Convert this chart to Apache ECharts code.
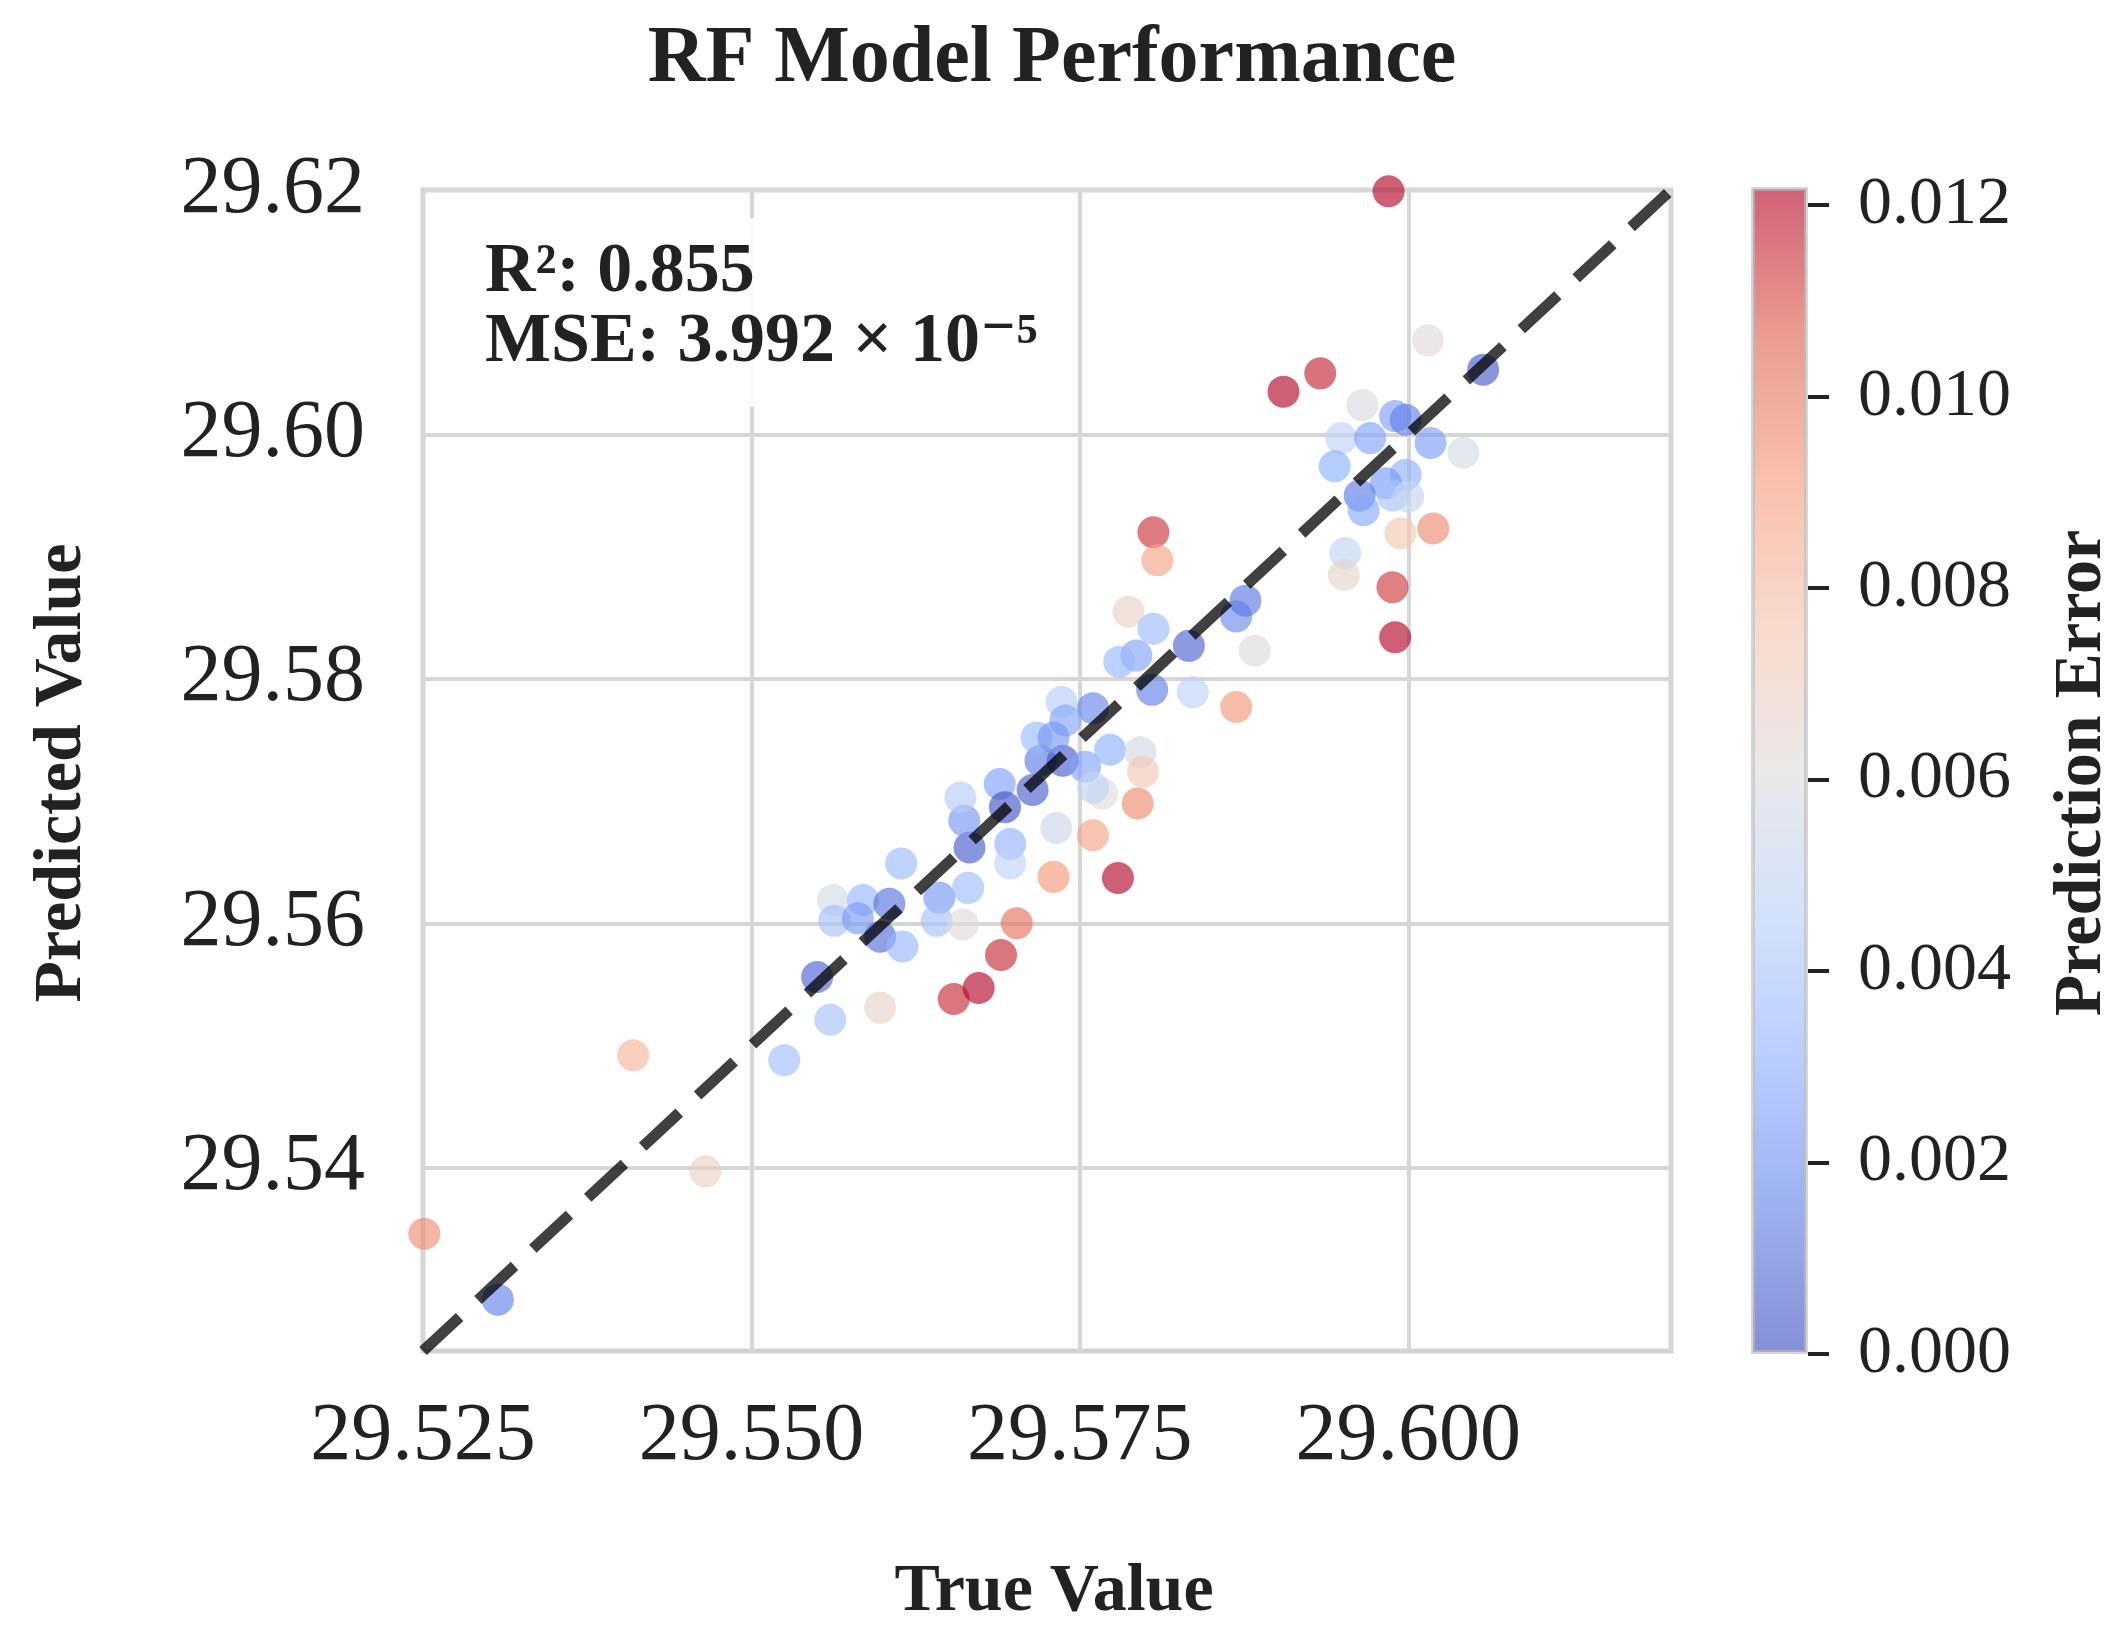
<!DOCTYPE html>
<html>
<head>
<meta charset="utf-8">
<title>RF Model Performance</title>
<script src="https://cdn.jsdelivr.net/npm/echarts@6/dist/echarts.min.js"></script>
<style>
  html, body { margin: 0; padding: 0; background: #fff; }
  #chart { width: 2121px; height: 1642px; }
</style>
</head>
<body>
<div id="chart"></div>
<script>
  // values
  var trueValues = [
    29.5251, 29.5307, 29.5410, 29.5465, 29.5525, 29.5550, 29.5560, 29.5598, 29.5562, 29.5563,
    29.5585, 29.5581, 29.5605, 29.5598, 29.5615, 29.5614, 29.5643, 29.5641, 29.5661, 29.5665,
    29.5654, 29.5673, 29.5690, 29.5702, 29.5697, 29.5697, 29.5666, 29.5662, 29.5659, 29.5689,
    29.5693, 29.5714, 29.5720, 29.5737, 29.5754, 29.5773, 29.5796, 29.5798, 29.5767, 29.5760,
    29.5794, 29.5760, 29.5730, 29.5779, 29.5732, 29.5806, 29.5809, 29.5787, 29.5806, 29.5793,
    29.5780, 29.5833, 29.5883, 29.5869, 29.5876, 29.5805, 29.5836, 29.5869, 29.5736, 29.5760,
    29.5739, 29.5717, 29.5730, 29.5905, 29.5933, 29.5965, 29.6015, 29.6057, 29.5949, 29.5971,
    29.5990, 29.5998, 29.6017, 29.6042, 29.5944, 29.5998, 29.5983, 29.5988, 29.6000, 29.5963,
    29.5966, 29.5994, 29.6019, 29.5952, 29.5951, 29.5988, 29.5990, 29.5985
  ];
  var predictedValues = [
    29.5346, 29.5292, 29.5492, 29.5397, 29.5488, 29.5556, 29.5521, 29.5531, 29.5619, 29.5602,
    29.5619, 29.5604, 29.5616, 29.5589, 29.5581, 29.5649, 29.5621, 29.5602, 29.5599, 29.5629,
    29.5538, 29.5547, 29.5574, 29.5600, 29.5665, 29.5649, 29.5662, 29.5684, 29.5703, 29.5714,
    29.5695, 29.5709, 29.5733, 29.5733, 29.5728, 29.5742, 29.5740, 29.5724, 29.5706, 29.5711,
    29.5698, 29.5672, 29.5638, 29.5637, 29.5678, 29.5920, 29.5897, 29.5855, 29.5841, 29.5819,
    29.5814, 29.5827, 29.5823, 29.5851, 29.5864, 29.5791, 29.5789, 29.5777, 29.5781, 29.5776,
    29.5766, 29.5752, 29.5752, 29.6035, 29.6050, 29.6024, 29.6077, 29.6053, 29.5997, 29.5997,
    29.6015, 29.6012, 29.5993, 29.5985, 29.5974, 29.5967, 29.5960, 29.5950, 29.5949, 29.5950,
    29.5938, 29.5919, 29.5923, 29.5903, 29.5885, 29.5875, 29.5834, 29.6199
  ];
  var errorValues = [
    0.0095, 0.0015, 0.0082, 0.0068, 0.0037, 0.0006, 0.0039, 0.0067, 0.0057, 0.0039,
    0.0034, 0.0023, 0.0011, 0.0009, 0.0034, 0.0035, 0.0022, 0.0039, 0.0062, 0.0036,
    0.0116, 0.0126, 0.0116, 0.0102, 0.0032, 0.0048, 0.0004, 0.0022, 0.0044, 0.0025,
    0.0002, 0.0005, 0.0013, 0.0004, 0.0026, 0.0031, 0.0056, 0.0074, 0.0061, 0.0049,
    0.0096, 0.0088, 0.0092, 0.0142, 0.0054, 0.0114, 0.0088, 0.0068, 0.0035, 0.0026,
    0.0034, 0.0006, 0.0060, 0.0018, 0.0012, 0.0014, 0.0047, 0.0092, 0.0045, 0.0016,
    0.0027, 0.0035, 0.0022, 0.0130, 0.0117, 0.0059, 0.0062, 0.0004, 0.0048, 0.0026,
    0.0025, 0.0014, 0.0024, 0.0057, 0.0030, 0.0031, 0.0023, 0.0038, 0.0051, 0.0013,
    0.0028, 0.0075, 0.0096, 0.0049, 0.0066, 0.0113, 0.0156, 0.0214
  ];

  var axisMin = 29.525;
  var axisMax = 29.62;
  var yTicks = [29.54, 29.56, 29.58, 29.60, 29.62];
  var errorTicks = [0, 0.002, 0.004, 0.006, 0.008, 0.010, 0.012];
  var errorMax = 0.01219;

  // matplotlib coolwarm, low -> high
  var coolwarm = ['#3b4cc0', '#6282ea', '#8db0fe', '#b8d0f9', '#dddcdc',
                  '#f5c4ad', '#f49a7b', '#de604d', '#b40426'];

  var serif = "'Liberation Serif', 'Times New Roman', 'DejaVu Serif', serif";
  var inkColor = '#222';
  var gridColor = '#d6d6d6';

  var points = trueValues.map(function(t, i){
    return [t, predictedValues[i], errorValues[i]];
  });

  var barStops = coolwarm.slice().reverse().map(function(c, i){
    return { offset: i / (coolwarm.length - 1), color: c };
  });

  var chart = echarts.init(document.getElementById('chart'));

  var option = {
    animation: false,
    backgroundColor: '#fff',
    grid: [
      {
        left: 423, top: 190, width: 1248, height: 1161,
        show: true, borderColor: '#d3d3d3', borderWidth: 5
      },
      {
        left: 1751, top: 187, width: 57, height: 1167
      }
    ],
    xAxis: [
      {
        type: 'value', gridIndex: 0,
        min: axisMin, max: axisMax, interval: 0.025,
        axisLine: { show: false },
        axisTick: { show: false },
        axisLabel: {
          fontFamily: serif, fontSize: 82, color: inkColor, margin: 45,
          showMaxLabel: false,
          formatter: function(v){ return v.toFixed(3); }
        },
        splitLine: { show: true, lineStyle: { color: gridColor, width: 4 } }
      },
      {
        type: 'category', gridIndex: 1, data: ['error'], show: false
      }
    ],
    yAxis: [
      {
        type: 'value', gridIndex: 0,
        min: axisMin, max: axisMax,
        axisLine: { show: false },
        axisTick: { show: false, customValues: yTicks },
        axisLabel: {
          customValues: yTicks,
          fontFamily: serif, fontSize: 82, color: inkColor, margin: 58,
          formatter: function(v){ return v.toFixed(2); }
        },
        splitLine: { show: true, lineStyle: { color: gridColor, width: 4 } }
      },
      {
        type: 'value', gridIndex: 1, position: 'right',
        min: 0, max: errorMax,
        axisLine: { show: false },
        axisTick: {
          show: true, customValues: errorTicks, length: 21,
          lineStyle: { color: inkColor, width: 4 }
        },
        axisLabel: {
          customValues: errorTicks,
          fontFamily: serif, fontSize: 68, color: inkColor, margin: 50,
          formatter: function(v){ return v.toFixed(3); }
        },
        splitLine: { show: false }
      }
    ],
    visualMap: {
      type: 'continuous', show: false, seriesIndex: 0, dimension: 2,
      min: 0, max: errorMax,
      inRange: { color: coolwarm }
    },
    series: [
      {
        name: 'points',
        type: 'scatter',
        xAxisIndex: 0, yAxisIndex: 0,
        data: points,
        symbolSize: 32,
        itemStyle: { opacity: 0.64 },
        z: 2
      },
      {
        name: 'ideal',
        type: 'line',
        xAxisIndex: 0, yAxisIndex: 0,
        data: [[axisMin, axisMin], [axisMax, axisMax]],
        showSymbol: false, symbol: 'none',
        lineStyle: { color: '#000', opacity: 0.75, width: 11, type: [50, 25], cap: 'butt' },
        z: 3
      },
      {
        name: 'colorbar',
        type: 'bar',
        xAxisIndex: 1, yAxisIndex: 1,
        data: [errorMax],
        barWidth: '100%',
        itemStyle: {
          color: new echarts.graphic.LinearGradient(0, 0, 0, 1, barStops),
          opacity: 0.63,
          borderColor: '#bdbdbd', borderWidth: 4
        }
      }
    ],
    graphic: [
      {
        type: 'rect', z: 10,
        shape: { x: 456, y: 218, width: 585, height: 189, r: 8 },
        style: { fill: 'rgba(255,255,255,0.88)' }
      },
      {
        type: 'text', z: 11, x: 485, y: 273,
        style: {
          text: 'R²: 0.855', font: 'bold 70px ' + serif, fill: inkColor,
          textAlign: 'left', textVerticalAlign: 'middle'
        }
      },
      {
        type: 'text', z: 11, x: 485, y: 343,
        style: {
          text: 'MSE: 3.992 × 10⁻⁵', font: 'bold 70px ' + serif, fill: inkColor,
          textAlign: 'left', textVerticalAlign: 'middle'
        }
      },
      {
        type: 'text', x: 1052, y: 60,
        style: {
          text: 'RF Model Performance', font: 'bold 80px ' + serif, fill: inkColor,
          textAlign: 'center', textVerticalAlign: 'middle'
        }
      },
      {
        type: 'text', x: 1054, y: 1592,
        style: {
          text: 'True Value', font: 'bold 68px ' + serif, fill: inkColor,
          textAlign: 'center', textVerticalAlign: 'middle'
        }
      },
      {
        type: 'text', x: 62, y: 773, rotation: Math.PI / 2,
        style: {
          text: 'Predicted Value', font: 'bold 68px ' + serif, fill: inkColor,
          textAlign: 'center', textVerticalAlign: 'middle'
        }
      },
      {
        type: 'text', x: 2082, y: 773, rotation: Math.PI / 2,
        style: {
          text: 'Prediction Error', font: 'bold 68px ' + serif, fill: inkColor,
          textAlign: 'center', textVerticalAlign: 'middle'
        }
      }
    ]
  };

  chart.setOption(option);
</script>
</body>
</html>
